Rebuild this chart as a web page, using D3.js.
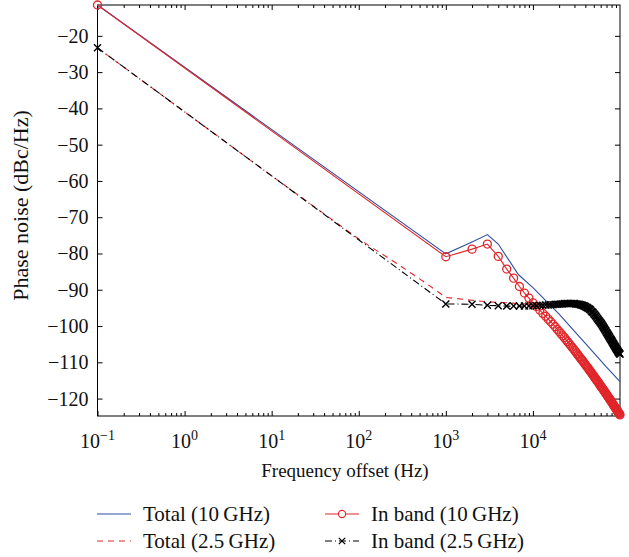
<!DOCTYPE html>
<html>
<head>
<meta charset="utf-8">
<script src="https://cdn.jsdelivr.net/npm/d3@7"></script>
<style>
  html, body { margin: 0; padding: 0; background: #fff; overflow: hidden; }
  svg { display: block; }
  svg text { font-family: "Liberation Serif", "DejaVu Serif", serif; fill: #111; }
</style>
</head>
<body>
<svg id="chart" width="629" height="557"></svg>
<script>
const svg = d3.select('#chart');

const margin = { top: 5, right: 9, bottom: 141, left: 97.5 };
const width = +svg.attr('width');
const height = +svg.attr('height');
const innerWidth = width - margin.left - margin.right;
const innerHeight = height - margin.top - margin.bottom;

// frequency grid (Hz) for the in-band curves: 0.1 Hz, then 1 kHz .. 100 kHz in 1 kHz steps
const freqKHz = d3.range(1, 101);
const inbandFreq = [0.1].concat(freqKHz.map(k => k * 1000));

// In band (10 GHz), dBc/Hz
const inband10 = [-11.5,
  -80.9, -78.8, -77.4, -80.8, -84.3, -86.8, -89.1, -90.9, -92.3, -93.6,
  -94.6, -95.6, -96.5, -97.3, -98.1, -98.8, -99.5, -100.2, -100.9, -101.5,
  -102.1, -102.7, -103.2, -103.8, -104.3, -104.8, -105.3, -105.8, -106.2, -106.7,
  -107.1, -107.6, -108.0, -108.4, -108.8, -109.2, -109.5, -109.9, -110.3, -110.6,
  -111.0, -111.3, -111.6, -112.0, -112.3, -112.6, -112.9, -113.2, -113.5, -113.8,
  -114.1, -114.4, -114.7, -114.9, -115.2, -115.5, -115.7, -116.0, -116.3, -116.5,
  -116.8, -117.0, -117.2, -117.5, -117.7, -117.9, -118.2, -118.4, -118.6, -118.8,
  -119.1, -119.3, -119.5, -119.7, -119.9, -120.1, -120.3, -120.5, -120.7, -120.9,
  -121.1, -121.3, -121.5, -121.7, -121.9, -122.1, -122.3, -122.4, -122.6, -122.8,
  -123.0, -123.2, -123.3, -123.5, -123.7, -123.8, -124.0, -124.2, -124.3, -124.5];

// In band (2.5 GHz), dBc/Hz
const inband25 = [-23.3,
  -93.9, -94.0, -94.3, -94.4, -94.5, -94.5, -94.5, -94.5, -94.5, -94.4,
  -94.4, -94.3, -94.3, -94.2, -94.2, -94.1, -94.1, -94.0, -94.0, -94.0,
  -93.9, -93.9, -93.8, -93.8, -93.8, -93.8, -93.8, -93.8, -93.8, -93.8,
  -93.9, -93.9, -94.0, -94.0, -94.1, -94.2, -94.3, -94.4, -94.5, -94.6,
  -94.8, -94.9, -95.1, -95.2, -95.4, -95.6, -95.9, -96.1, -96.3, -96.6,
  -96.8, -97.1, -97.3, -97.6, -97.9, -98.1, -98.4, -98.6, -98.9, -99.1,
  -99.4, -99.6, -99.9, -100.1, -100.4, -100.7, -100.9, -101.2, -101.4, -101.7,
  -101.9, -102.2, -102.4, -102.7, -102.9, -103.1, -103.4, -103.6, -103.8, -104.0,
  -104.2, -104.5, -104.7, -104.9, -105.1, -105.3, -105.5, -105.7, -105.9, -106.1,
  -106.3, -106.5, -106.6, -106.8, -107.0, -107.2, -107.3, -107.5, -107.6, -107.8];

// Total (10 GHz)
const total10Freq = [0.1, 1000, 2000, 3000, 4000, 6800, 10000, 20000, 40000, 70000, 100000];
const total10 = [-11.5, -80.1, -76.8, -74.8, -77.4, -85.8, -89.4, -96.7, -104.8, -111.3, -115.3];

// Total (2.5 GHz)
const total25Freq = [0.1, 10, 100, 300, 600, 1000, 2000, 3000, 5000, 10000, 20000, 30000, 40000, 50000, 60000, 70000, 80000, 90000, 100000];
const total25 = [-23.3, -58.6, -76.0, -83.4, -88.3, -92.1, -92.9, -93.3, -93.6, -94.0, -93.7, -93.5, -94.3, -96.2, -98.8, -101.4, -103.7, -105.8, -107.6];

const yTicks = [-20, -30, -40, -50, -60, -70, -80, -90, -100, -110, -120];
const xTicks = [0.1, 1, 10, 100, 1000, 10000];
const xTickExp = ['\u22121', '0', '1', '2', '3', '4'];

const legendItems = [
  { label: 'Total (10\u2009GHz)', color: '#2f4f9f', dash: null, marker: null, col: 0, row: 0 },
  { label: 'Total (2.5\u2009GHz)', color: '#e0262b', dash: '6,5', marker: null, col: 0, row: 1 },
  { label: 'In band (10\u2009GHz)', color: '#e0262b', dash: null, marker: 'o', col: 1, row: 0 },
  { label: 'In band (2.5\u2009GHz)', color: '#000', dash: '7,3,1,3', marker: 'x', col: 1, row: 1 }
];

const xScale = d3.scaleLog().domain([0.1, 1e5]).range([0, innerWidth]);
const yScale = d3.scaleLinear().domain([-124.8, -11.5]).range([innerHeight, 0]);

const g = svg.append('g').attr('transform', `translate(${margin.left},${margin.top})`);

// minor ticks (2..9 per decade)
const minorTicks = [];
for (let e = -1; e < 5; e++) {
  for (let m = 2; m <= 9; m++) minorTicks.push(m * Math.pow(10, e));
}

// ticks only; labels are drawn separately below
const bareAxis = sel => {
  sel.select('.domain').remove();
  sel.selectAll('.tick line').attr('stroke', '#000').attr('stroke-width', 1);
  sel.selectAll('.tick text').remove();
};

const bottom = g.append('g').attr('transform', `translate(0,${innerHeight})`);
bottom.append('g').call(d3.axisBottom(xScale).tickValues(xTicks).tickSize(-5)).call(bareAxis);
bottom.append('g').call(d3.axisBottom(xScale).tickValues(minorTicks).tickSize(-3)).call(bareAxis);

g.append('g').call(d3.axisTop(xScale).tickValues(xTicks).tickSize(-5)).call(bareAxis);
g.append('g').call(d3.axisTop(xScale).tickValues(minorTicks).tickSize(-3)).call(bareAxis);

g.append('g').call(d3.axisLeft(yScale).tickValues(yTicks).tickSize(-5)).call(bareAxis);
g.append('g').attr('transform', `translate(${innerWidth},0)`)
  .call(d3.axisRight(yScale).tickValues(yTicks).tickSize(-5)).call(bareAxis);

// tick labels
const yFmt = d3.format('d');
g.append('g').selectAll('text').data(yTicks).join('text')
  .attr('x', -9).attr('y', d => yScale(d)).attr('dy', '0.35em')
  .attr('text-anchor', 'end').attr('font-size', 20)
  .text(d => yFmt(d));

g.append('g').selectAll('text').data(xTicks).join('text')
  .attr('x', d => xScale(d)).attr('y', innerHeight + 32)
  .attr('text-anchor', 'middle').attr('font-size', 20)
  .each(function(d, i) {
    const t = d3.select(this);
    t.append('tspan').text('10');
    t.append('tspan').attr('dy', '-0.6em').attr('font-size', 14).text(xTickExp[i]);
  });

// frame
g.append('rect')
  .attr('width', innerWidth).attr('height', innerHeight)
  .attr('fill', 'none').attr('stroke', '#000').attr('stroke-width', 1);

// series
const line = d3.line().x(d => xScale(d[0])).y(d => yScale(d[1]));

const zip = (xs, ys) => xs.map((x, i) => [x, ys[i]]);

g.append('path').datum(zip(total10Freq, total10))
  .attr('d', line).attr('fill', 'none').attr('stroke', '#2f4f9f').attr('stroke-width', 1.1);

g.append('path').datum(zip(total25Freq, total25))
  .attr('d', line).attr('fill', 'none').attr('stroke', '#e0262b').attr('stroke-width', 1.1)
  .attr('stroke-dasharray', '6,5');

const red = zip(inbandFreq, inband10);
g.append('path').datum(red)
  .attr('d', line).attr('fill', 'none').attr('stroke', '#e0262b').attr('stroke-width', 1.1);
g.append('g').selectAll('circle').data(red).join('circle')
  .attr('cx', d => xScale(d[0])).attr('cy', d => yScale(d[1])).attr('r', 4)
  .attr('fill', 'none').attr('stroke', '#e0262b').attr('stroke-width', 1.3);

const blk = zip(inbandFreq, inband25);
g.append('path').datum(blk)
  .attr('d', line).attr('fill', 'none').attr('stroke', '#000').attr('stroke-width', 1.1)
  .attr('stroke-dasharray', '7,3,1,3');
const xMark = 3.5;
g.append('g').selectAll('path').data(blk).join('path')
  .attr('d', d => {
    const cx = xScale(d[0]), cy = yScale(d[1]);
    return `M${cx - xMark},${cy - xMark}L${cx + xMark},${cy + xMark}M${cx - xMark},${cy + xMark}L${cx + xMark},${cy - xMark}`;
  })
  .attr('fill', 'none').attr('stroke', '#000').attr('stroke-width', 1.4);

// axis titles
svg.append('text')
  .attr('x', 345).attr('y', 477)
  .attr('text-anchor', 'middle').attr('font-size', 19)
  .text('Frequency offset (Hz)');

svg.append('text')
  .attr('transform', `translate(28,${margin.top + innerHeight / 2 - 5}) rotate(-90)`)
  .attr('text-anchor', 'middle').attr('font-size', 22)
  .text('Phase noise (dBc/Hz)');

// legend
const legend = svg.append('g');
const colX = [97, 325];
const rowY = [514, 541];
legendItems.forEach(it => {
  const x0 = colX[it.col], y0 = rowY[it.row];
  legend.append('line')
    .attr('x1', x0).attr('x2', x0 + 34).attr('y1', y0).attr('y2', y0)
    .attr('stroke', it.color).attr('stroke-width', 1.1)
    .attr('stroke-dasharray', it.dash);
  if (it.marker === 'o') {
    legend.append('circle').attr('cx', x0 + 17).attr('cy', y0).attr('r', 3.6)
      .attr('fill', '#fff').attr('stroke', it.color).attr('stroke-width', 1.1);
  } else if (it.marker === 'x') {
    const cx = x0 + 17;
    legend.append('path')
      .attr('d', `M${cx - 3.2},${y0 - 3.2}L${cx + 3.2},${y0 + 3.2}M${cx - 3.2},${y0 + 3.2}L${cx + 3.2},${y0 - 3.2}`)
      .attr('stroke', '#000').attr('stroke-width', 1.2);
  }
  legend.append('text')
    .attr('x', x0 + 46).attr('y', y0).attr('dy', '0.35em')
    .attr('font-size', 21)
    .text(it.label);
});
</script>
</body>
</html>
